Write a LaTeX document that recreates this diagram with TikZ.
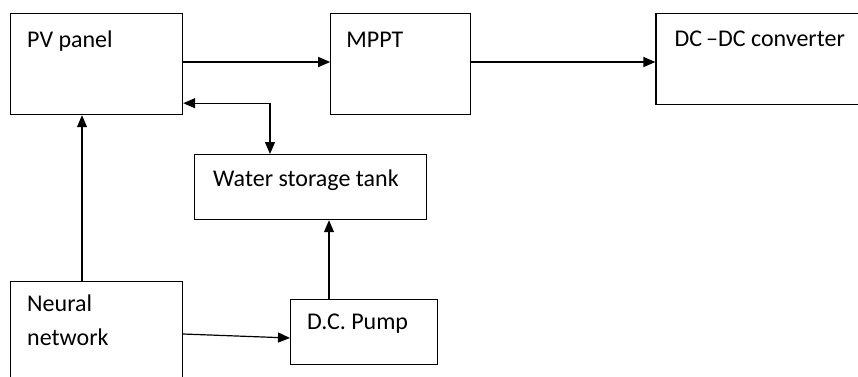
\documentclass[tikz,border=0pt]{standalone}
\usepackage{fontspec}
\setmainfont{Carlito}
\usetikzlibrary{positioning,arrows.meta,calc}

\begin{document}
\begin{tikzpicture}[
  x=1pt, y=-1pt,
  box/.style={draw=black, line width=1.2pt, inner sep=0pt, anchor=north west},
  tag/.style={anchor=base west, inner sep=0pt, font=\fontsize{24}{34}\selectfont, align=left},
  arrow/.style={-{Triangle[length=12pt,width=10pt]}, line width=1.2pt},
  both/.style={{Triangle[length=12pt,width=10pt]}-{Triangle[length=12pt,width=10pt]}, line width=1.2pt}
]
\useasboundingbox (0,0) rectangle (858,376);
\clip (0,0) rectangle (858,376);
\node[box, minimum width=172pt, minimum height=101pt, label={[tag, xshift=17pt, yshift=-34pt]north west:PV panel}] (pv) at (10,13) {};
\node[box, right=147pt of pv.north east, anchor=north west, minimum width=140pt, minimum height=101pt, label={[tag, xshift=16pt, yshift=-34pt]north west:MPPT}] (mppt) {};
\node[box, right=184pt of mppt.north east, anchor=north west, minimum width=230pt, minimum height=91pt, label={[tag, xshift=19pt, yshift=-33pt]north west:DC\,--DC converter}] (dcdc) {};
\node[box, minimum width=232pt, minimum height=65pt, label={[tag, xshift=19pt, yshift=-32pt]north west:Water storage tank}] (tank) at (194,154) {};
\node[box, minimum width=172pt, minimum height=110pt, label={[tag, xshift=17pt, yshift=-64pt]north west:Neural\\network}] (nn) at (10,281) {};
\node[box, minimum width=147pt, minimum height=65pt, label={[tag, xshift=17pt, yshift=-30pt]north west:D.C. Pump}] (pump) at (290,299) {};
\draw[arrow] ($(pv.north east)+(0,49)$) -- ($(mppt.north west)+(0,49)$);
\draw[arrow] ($(mppt.north east)+(0,49)$) -- ($(dcdc.north west)+(0,49)$);
\draw[both] ($(pv.south east)+(0,-12)$) -| ($(tank.north west)+(76,0)$);
\draw[arrow] ($(nn.north west)+(72,0)$) -- ($(pv.south west)+(72,0)$);
\draw[arrow] ($(nn.north east)+(0,53)$) -- ($(pump.north west)+(0,39)$);
\draw[arrow] ($(pump.north west)+(39,0)$) -- ($(tank.south west)+(135,0)$);
\end{tikzpicture}
\end{document}
